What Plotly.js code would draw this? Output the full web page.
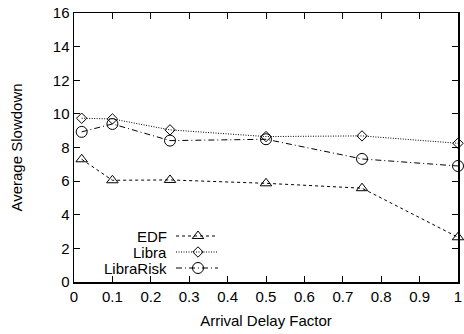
<!DOCTYPE html>
<html><head><meta charset="utf-8">
<script src="https://cdn.plot.ly/plotly-3.0.1.min.js"></script>
<style>html,body{margin:0;padding:0;background:#fff}#c{width:464px;height:334px}</style>
</head><body><div id="c"></div>
<script>
const xVals = [0.02, 0.1, 0.25, 0.5, 0.75, 1.0];
const edf = [7.3, 6.05, 6.07, 5.87, 5.58, 2.66];
const libra = [9.74, 9.70, 9.05, 8.65, 8.69, 8.25];
const libraRisk = [8.93, 9.40, 8.41, 8.49, 7.32, 6.90];
const seriesNames = ["EDF", "Libra", "LibraRisk"];
const xTicks = [0,0.1,0.2,0.3,0.4,0.5,0.6,0.7,0.8,0.9,1];
const xTickText = ["0","0.1","0.2","0.3","0.4","0.5","0.6","0.7","0.8","0.9","1"];
const yTicks = [0,2,4,6,8,10,12,14,16];

const FONT = "Liberation Sans, Arial, sans-serif";
const styles = [
  {dash: "3px,3px", symbol: "triangle-up-open", size: 10},
  {dash: "1px,1.5px", symbol: "diamond-open", size: 8},
  {dash: "6px,3px,1px,3px", symbol: "circle-open", size: 11}
];
const data = [edf, libra, libraRisk];
const traces = data.map((ys, i) => ({
  x: xVals, y: ys, type: "scatter", mode: "lines+markers", name: seriesNames[i],
  showlegend: false, cliponaxis: false,
  line: {color: "#000", width: 1, dash: styles[i].dash},
  marker: {symbol: styles[i].symbol, size: styles[i].size, color: "#000", line: {width: 1, color: "#000"}}
}));
// legend keys on an overlay axis in pixel-like units
const legY = [236, 252, 268];
const annotations = [];
seriesNames.forEach((n, i) => {
  traces.push({x: [176, 218], y: [legY[i], legY[i]], xaxis: "x2", yaxis: "y2", type: "scatter", mode: "lines",
    showlegend: false, hoverinfo: "skip", line: {color: "#000", width: 1, dash: styles[i].dash}});
  traces.push({x: [198], y: [legY[i]], xaxis: "x2", yaxis: "y2", type: "scatter", mode: "markers",
    showlegend: false, hoverinfo: "skip", marker: {symbol: styles[i].symbol, size: styles[i].size, color: "#000", line: {width: 1, color: "#000"}}});
  annotations.push({x: 167, y: legY[i], xref: "x2", yref: "y2", text: n, showarrow: false, xanchor: "right", yanchor: "middle",
    xshift: 2, font: {family: FONT, size: 15, color: "#000"}});
});

const layout = {
  width: 464, height: 334,
  margin: {l: 74, r: 6, t: 13, b: 52},
  paper_bgcolor: "#fff", plot_bgcolor: "#fff",
  showlegend: false,
  font: {family: FONT, size: 15, color: "#000"},
  xaxis: {range: [0, 1], tickvals: xTicks, ticktext: xTickText, ticks: "inside", ticklen: 6, tickwidth: 1, tickcolor: "#000",
    showline: true, linecolor: "#000", linewidth: 1.5, mirror: "ticks", showgrid: false, zeroline: false,
    tickfont: {size: 15},
    title: {text: "Arrival Delay Factor", font: {size: 15}, standoff: 12}},
  yaxis: {range: [0, 16], tickvals: yTicks, ticks: "inside", ticklen: 6, tickwidth: 1, tickcolor: "#000",
    showline: true, linecolor: "#000", linewidth: 1.5, mirror: "ticks", showgrid: false, zeroline: false,
    tickfont: {size: 15},
    title: {text: "Average Slowdown", font: {size: 15}, standoff: 26}},
  xaxis2: {overlaying: "x", range: [74, 458], visible: false, fixedrange: true},
  yaxis2: {overlaying: "y", range: [282, 13], visible: false, fixedrange: true},
  annotations: annotations
};
Plotly.newPlot("c", traces, layout, {staticPlot: true, displayModeBar: false});
</script></body></html>
